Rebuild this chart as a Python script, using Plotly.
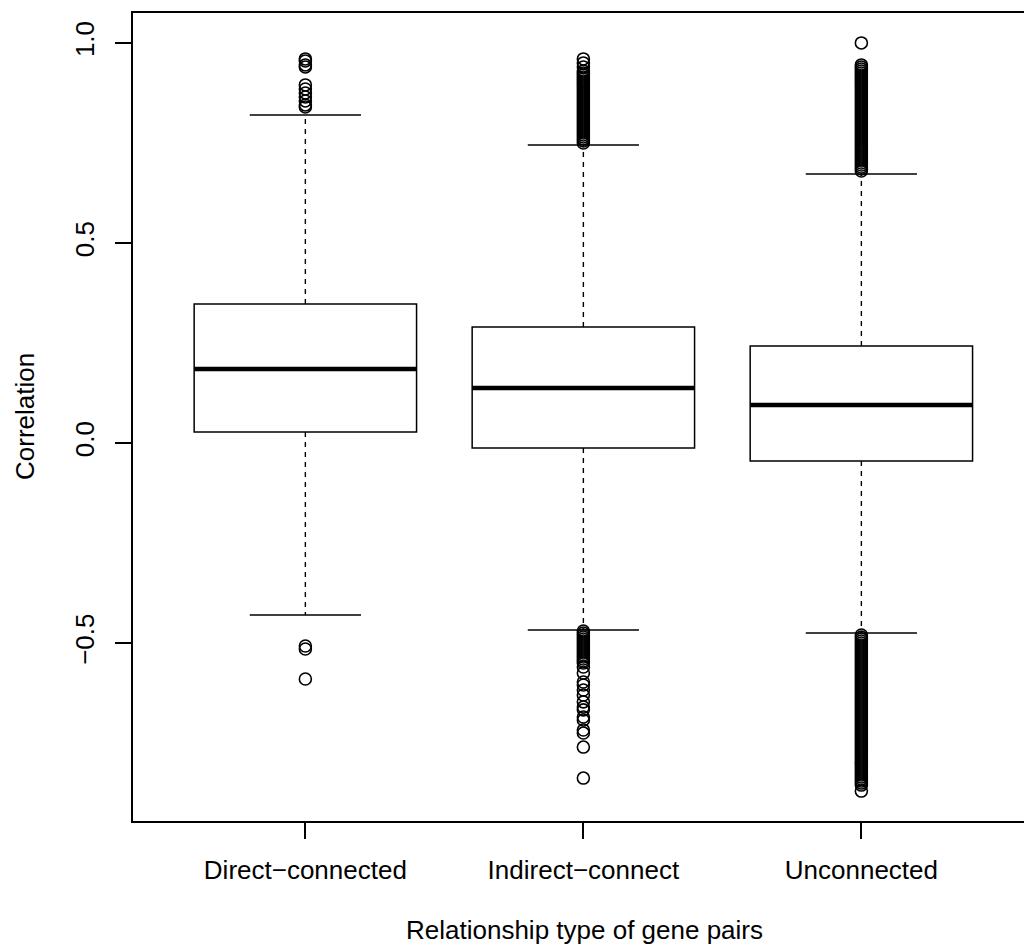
import plotly.graph_objects as go

categories = ["Direct−connected", "Indirect−connect", "Unconnected"]
positions = [1, 2, 3]

q1 = [0.0275, -0.0125, -0.045]
median = [0.185, 0.1375, 0.095]
q3 = [0.3475, 0.29, 0.2425]
lower_whisker = [-0.43, -0.4675, -0.475]
upper_whisker = [0.82, 0.745, 0.6725]

outliers_direct = [0.96, 0.955, 0.945, 0.94, 0.895, 0.885, 0.875, 0.865, 0.855,
                   0.845, 0.84, -0.5075, -0.515, -0.59]

outliers_indirect = [0.96, 0.95, 0.94, 0.93, 0.925, 0.92, 0.915, 0.91, 0.905, 0.9,
                     0.895, 0.89, 0.885, 0.88, 0.875, 0.87, 0.865, 0.86, 0.855, 0.85,
                     0.845, 0.84, 0.835, 0.83, 0.825, 0.82, 0.815, 0.81, 0.805, 0.8,
                     0.795, 0.79, 0.785, 0.78, 0.775, 0.77, 0.765, 0.76, 0.755, 0.75,
                     -0.47, -0.475, -0.48, -0.485, -0.49, -0.495, -0.5, -0.505, -0.51,
                     -0.515, -0.52, -0.525, -0.53, -0.535, -0.54, -0.545, -0.55,
                     -0.56, -0.575, -0.5975, -0.605, -0.6175, -0.63, -0.647, -0.66,
                     -0.667, -0.685, -0.6925, -0.7175, -0.725, -0.76, -0.8375]

outliers_unconnected = [1.0, 0.945, 0.94, 0.935, 0.93, 0.925, 0.92, 0.915, 0.91, 0.905,
                        0.9, 0.895, 0.89, 0.885, 0.88, 0.875, 0.87, 0.865, 0.86, 0.855,
                        0.85, 0.845, 0.84, 0.835, 0.83, 0.825, 0.82, 0.815, 0.81, 0.805,
                        0.8, 0.795, 0.79, 0.785, 0.78, 0.775, 0.77, 0.765, 0.76, 0.755,
                        0.75, 0.745, 0.74, 0.735, 0.73, 0.725, 0.72, 0.715, 0.71, 0.705,
                        0.7, 0.695, 0.69, 0.685, 0.68,
                        -0.48, -0.485, -0.49, -0.495, -0.5, -0.505, -0.51, -0.515, -0.52,
                        -0.525, -0.53, -0.535, -0.54, -0.545, -0.55, -0.555, -0.56, -0.565,
                        -0.57, -0.575, -0.58, -0.585, -0.59, -0.595, -0.6, -0.605, -0.61,
                        -0.615, -0.62, -0.625, -0.63, -0.635, -0.64, -0.645, -0.65, -0.655,
                        -0.66, -0.665, -0.67, -0.675, -0.68, -0.685, -0.69, -0.695, -0.7,
                        -0.705, -0.71, -0.715, -0.72, -0.725, -0.73, -0.735, -0.74, -0.745,
                        -0.75, -0.755, -0.76, -0.765, -0.77, -0.775, -0.78, -0.785, -0.79,
                        -0.795, -0.8, -0.805, -0.81, -0.815, -0.82, -0.825, -0.83, -0.835,
                        -0.84, -0.845, -0.85, -0.855, -0.87]

outliers = [outliers_direct, outliers_indirect, outliers_unconnected]

y_ticks = [-0.5, 0.0, 0.5, 1.0]
x_title = "Relationship type of gene pairs"
y_title = "Correlation"

FONT = "Liberation Sans, Arial, Helvetica, sans-serif"
BOX_HALF = 0.4
STAPLE_HALF = 0.2

fig = go.Figure()
shapes = []
for i, p in enumerate(positions):
    shapes.append(dict(type="rect", xref="x", yref="y", x0=p - BOX_HALF, x1=p + BOX_HALF,
                       y0=q1[i], y1=q3[i], line=dict(color="black", width=1.5),
                       fillcolor="rgba(0,0,0,0)", layer="above"))
    shapes.append(dict(type="line", xref="x", yref="y", x0=p - BOX_HALF, x1=p + BOX_HALF,
                       y0=median[i], y1=median[i], line=dict(color="black", width=4.5)))
    shapes.append(dict(type="line", xref="x", yref="y", x0=p, x1=p, y0=q3[i],
                       y1=upper_whisker[i], line=dict(color="black", width=1.4, dash="5px,5px")))
    shapes.append(dict(type="line", xref="x", yref="y", x0=p, x1=p, y0=q1[i],
                       y1=lower_whisker[i], line=dict(color="black", width=1.4, dash="5px,5px")))
    shapes.append(dict(type="line", xref="x", yref="y", x0=p - STAPLE_HALF, x1=p + STAPLE_HALF,
                       y0=upper_whisker[i], y1=upper_whisker[i], line=dict(color="black", width=1.5)))
    shapes.append(dict(type="line", xref="x", yref="y", x0=p - STAPLE_HALF, x1=p + STAPLE_HALF,
                       y0=lower_whisker[i], y1=lower_whisker[i], line=dict(color="black", width=1.5)))
    fig.add_trace(go.Scatter(
        x=[p] * len(outliers[i]), y=outliers[i], mode="markers",
        marker=dict(symbol="circle-open", size=12, color="black", line=dict(width=1.6, color="black")),
        showlegend=False, hoverinfo="y"))

fig.update_layout(
    width=1024, height=948,
    margin=dict(l=133, r=0, t=13, b=127),
    paper_bgcolor="white", plot_bgcolor="white",
    shapes=shapes,
    showlegend=False,
    font=dict(family=FONT, size=26, color="black"),
    xaxis=dict(range=[0.38, 3.585], tickvals=positions, ticktext=categories,
               showgrid=False, zeroline=False, showline=True, linecolor="black", linewidth=1.5,
               mirror=True, ticks="outside", ticklen=16, tickwidth=1.5, tickcolor="black",
               ticklabelstandoff=9, tickfont=dict(size=26)),
    yaxis=dict(range=[-0.9448, 1.0748], tickvals=y_ticks, tickformat=".1f",
               showgrid=False, zeroline=False, showline=True, linecolor="black", linewidth=1.5,
               ticks="outside", ticklen=16, tickwidth=1.5, tickcolor="black",
               tickangle=-90, ticklabelstandoff=11, tickfont=dict(size=26)),
    annotations=[
        dict(text=x_title, xref="paper", yref="paper", x=(584 - 133) / 891, y=(821 - 930) / 808,
             xanchor="center", yanchor="middle", showarrow=False, font=dict(size=26)),
        dict(text=y_title, xref="paper", yref="paper", x=(25 - 133) / 891, y=0.5,
             xanchor="center", yanchor="middle", textangle=-90, showarrow=False, font=dict(size=26)),
    ],
)

fig.write_html("out.html", config={"displayModeBar": False},
               post_script="document.body.style.margin='0';document.body.style.overflow='hidden';")
